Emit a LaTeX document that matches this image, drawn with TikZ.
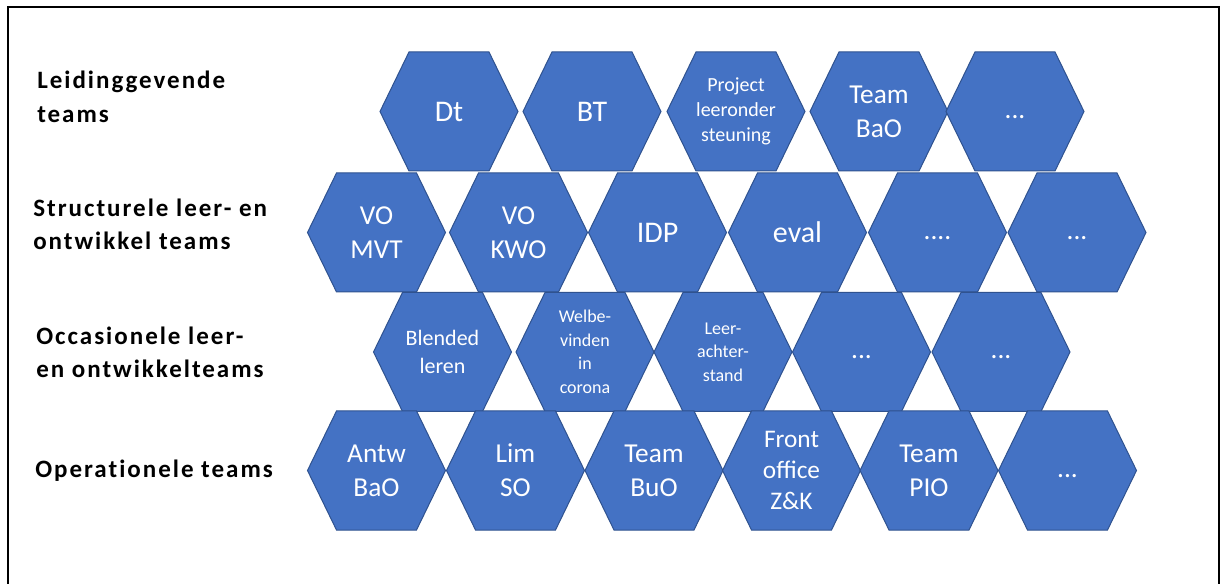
\documentclass[tikz,border=0pt]{standalone}
\usepackage{fontspec}
\setmainfont{Carlito}
\newfontfamily\labfont[LetterSpace=8,Ligatures={NoCommon}]{Carlito Bold}
\definecolor{hexfill}{HTML}{4472C4}
\definecolor{hexline}{HTML}{2F528F}
\tikzset{
  hexshape/.style={fill=hexfill,draw=hexline,line width=0.75pt,line join=miter},
  hextext/.style={text=white,align=center,inner sep=0pt},
  labtext/.style={anchor=base west,inner sep=0pt,font={\labfont\fontsize{18.75}{22}\selectfont}},
  frameline/.style={line width=1.5pt,draw=black}
}
\newcommand\hexcell[5]{%
  \path[hexshape] (#2-69,#3) -- (#2-40,#3-59.5) -- (#2+40,#3-59.5) -- (#2+69,#3)
     -- (#2+40,#3+59.5) -- (#2-40,#3+59.5) -- cycle;
  \node[hextext,font={#4}] (#1) at (#2,#3) {#5};}
\newcommand\fA{\fontsize{22.5}{27}\selectfont}
\newcommand\fB{\fontsize{20.5}{25.5}\selectfont}
\newcommand\fC{\fontsize{15}{19}\selectfont}
\newcommand\fD{\fontsize{16.5}{21.5}\selectfont}
\newcommand\fE{\fontsize{13.5}{17.6}\selectfont}
\newcommand\fF{\fontsize{19}{23}\selectfont}
\begin{document}
\begin{tikzpicture}[x=0.75pt,y=-0.75pt]
\useasboundingbox (0,0) rectangle (1221,584);
\draw[frameline] (8,584) -- (8,7) -- (1219,7) -- (1219,584);
% labels
\node[labtext] (l1a) at (37,88.5) {Leidinggevende};
\node[labtext] (l1b) at (37,123) {teams};
\node[labtext] (l2a) at (33,216.5) {Structurele leer- en};
\node[labtext] (l2b) at (33,250) {ontwikkel teams};
\node[labtext] (l3a) at (36,344.5) {Occasionele leer-};
\node[labtext] (l3b) at (36,378) {en ontwikkelteams};
\node[labtext] (l4a) at (35,477.5) {Operationele teams};
% row 1
\hexcell{r1a}{449}{111.5}{\fA}{Dt}
\hexcell{r1b}{592}{111.5}{\fA}{BT}
\hexcell{r1c}{736}{111.5}{\fC}{Project\\leeronder\\steuning}
\hexcell{r1d}{879}{111.5}{\fB}{Team\\BaO}
\hexcell{r1e}{1015}{111.5}{\fB}{\strut...}
% row 2
\hexcell{r2a}{376.5}{232.5}{\fB}{VO\\MVT}
\hexcell{r2b}{518.5}{232.5}{\fB}{VO\\KWO}
\hexcell{r2c}{657.5}{232.5}{\fA}{IDP}
\hexcell{r2d}{797.5}{232.5}{\fA}{eval}
\hexcell{r2e}{937.5}{232.5}{\fB}{\strut....}
\hexcell{r2f}{1077}{232.5}{\fB}{\strut...}
% row 3
\hexcell{r3a}{442.5}{352}{\fD}{Blended\\leren}
\hexcell{r3b}{585}{352}{\fE}{Welbe-\\vinden\\in\\corona}
\hexcell{r3c}{723}{352}{\fE}{Leer-\\achter-\\stand}
\hexcell{r3d}{861.5}{352}{\fB}{\strut...}
\hexcell{r3e}{1001}{352}{\fB}{\strut...}
% row 4
\hexcell{r4a}{376.5}{470.5}{\fB}{Antw\\BaO}
\hexcell{r4b}{515.5}{470.5}{\fB}{Lim\\SO}
\hexcell{r4c}{654}{470.5}{\fB}{Team\\BuO}
\hexcell{r4d}{791.5}{470.5}{\fF}{Front\\office\\Z\&K}
\hexcell{r4e}{929}{470.5}{\fB}{Team\\PIO}
\hexcell{r4f}{1067.5}{470.5}{\fB}{\strut...}
\end{tikzpicture}
\end{document}
